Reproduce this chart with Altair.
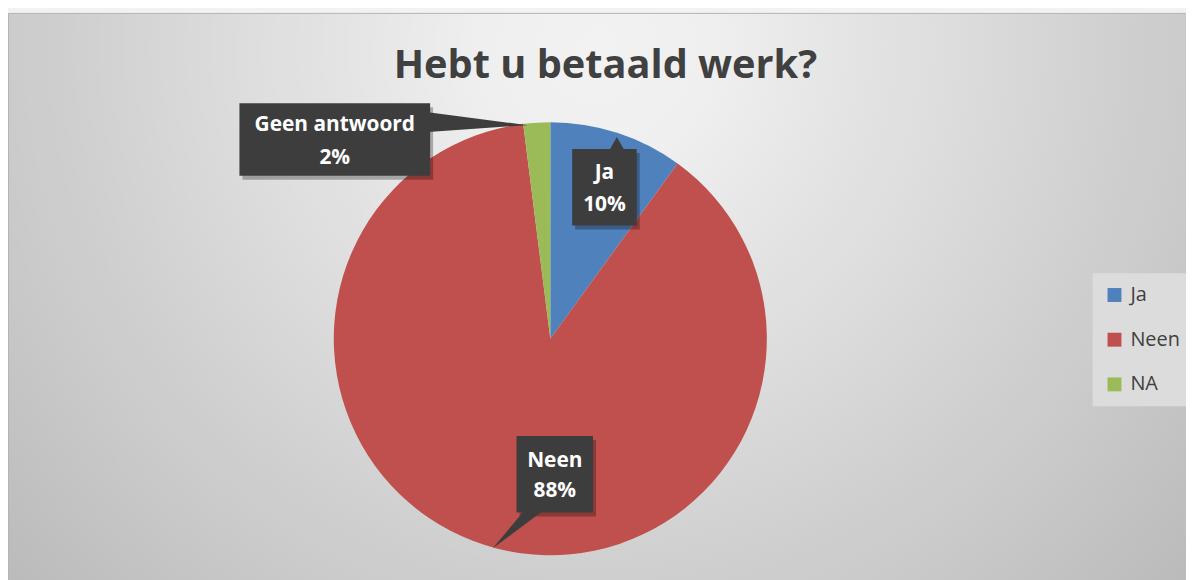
import altair as alt
import pandas as pd

# ---- data ----
categories = ["Ja", "Neen", "NA"]
label_names = ["Ja", "Neen", "Geen antwoord"]
values = [10, 88, 2]
colors = ["#4f81bd", "#c0504d", "#9bbb59"]
title_text = "Hebt u betaald werk?"

# ---- layout (page pixels) ----
W, H = 1186, 572
OFF = 8
CX, CY, R = 554 - OFF, 339 - OFF, 218

box_layout = {
    "Geen antwoord": dict(x1=241, x2=433, y1=102, y2=175, cx=337, ny=130, py=163),
    "Ja": dict(x1=576, x2=641, y1=148, y2=225, cx=608.5, ny=178, py=210),
    "Neen": dict(x1=520, x2=597, y1=437, y2=514, cx=558.5, ny=468, py=498),
}
ptr_v = [dict(id="g", x=431, y=111, y2=131), dict(id="g", x=531, y=124, y2=124)]
ptr_h = [dict(id="j", y=150, x=613, x2=629), dict(id="j", y=136, x=621, x2=621),
         dict(id="n", y=512, x=528, x2=547), dict(id="n", y=550, x=496, x2=496)]

pie_df = pd.DataFrame({"cat": categories, "value": values, "ord": list(range(len(values)))})

rows = []
for name, v in zip(label_names, values):
    L = box_layout[name]
    rows.append(dict(name=name, pct=f"{v}%", x1=L["x1"] - OFF, x2=L["x2"] - OFF,
                     y1=L["y1"] - OFF, y2=L["y2"] - OFF, cx=L["cx"] - OFF,
                     ny=L["ny"] - OFF, py=L["py"] - OFF))
lab_df = pd.DataFrame(rows)
shadow_df = lab_df.assign(x1=lab_df.x1 + 3, x2=lab_df.x2 + 3, y1=lab_df.y1 + 4, y2=lab_df.y2 + 4)
pv_df = pd.DataFrame([{k: (v - OFF if k != "id" else v) for k, v in d.items()} for d in ptr_v])
ph_df = pd.DataFrame([{k: (v - OFF if k != "id" else v) for k, v in d.items()} for d in ptr_h])

xs = alt.Scale(domain=[0, W], range=[0, W])
ys = alt.Scale(domain=[0, H], range=[0, H])
FONT = "Open Sans"
DARK = "#404040"

# background
bg = alt.Chart(pd.DataFrame({"a": [0]})).mark_rect(
    fill={"gradient": "radial", "x1": 0.495, "y1": 0.022, "r1": 0,
          "x2": 0.495, "y2": 0.022, "r2": 0.53,
          "stops": [{"offset": 0, "color": "#ffffff"},
                    {"offset": 0.15, "color": "#fcfcfc"},
                    {"offset": 1, "color": "#c6c6c6"}]},
    stroke="#bdbdbd", strokeWidth=1,
).encode(x=alt.value(0.5), x2=alt.value(1200), y=alt.value(3.5), y2=alt.value(1503.5))

# pie shadow
pshadow = alt.Chart(pd.DataFrame({"r": [R + 8, R + 6, R + 4, R + 2]})).mark_arc(
    fill="black", opacity=0.05
).encode(x=alt.value(CX), y=alt.value(CY + 4), theta=alt.value(0), theta2=alt.value(6.2832),
         radius=alt.Radius("r:Q", scale=None))

pie = alt.Chart(pie_df).mark_arc(outerRadius=R).encode(
    x=alt.value(CX), y=alt.value(CY),
    theta=alt.Theta("value:Q", stack=True),
    order=alt.Order("ord:Q"),
    color=alt.Color("cat:N", scale=alt.Scale(domain=categories, range=colors),
                    legend=alt.Legend(orient="none", legendX=1092, legendY=265, title=None,
                                      symbolType="square", symbolSize=196, symbolStrokeWidth=0,
                                      symbolOpacity=1, labelFont=FONT, labelFontSize=20,
                                      labelColor=DARK, rowPadding=25, padding=12,
                                      fillColor="#dcdcdc", labelOffset=6)),
)

bshadow = alt.Chart(shadow_df).mark_rect(fill="black", opacity=0.28).encode(
    x=alt.X("x1:Q", scale=xs, axis=None), x2="x2:Q",
    y=alt.Y("y1:Q", scale=ys, axis=None), y2="y2:Q")

boxes = alt.Chart(lab_df).mark_rect(fill="#3d3d3d").encode(
    x=alt.X("x1:Q", scale=xs, axis=None), x2="x2:Q",
    y=alt.Y("y1:Q", scale=ys, axis=None), y2="y2:Q")

pv = alt.Chart(pv_df).mark_area(fill="#3d3d3d", opacity=1).encode(
    x=alt.X("x:Q", scale=xs, axis=None),
    y=alt.Y("y:Q", scale=ys, axis=None, stack=None), y2="y2:Q",
    detail="id:N")

ph = alt.Chart(ph_df).mark_area(fill="#3d3d3d", opacity=1, orient="horizontal").encode(
    y=alt.Y("y:Q", scale=ys, axis=None),
    x=alt.X("x:Q", scale=xs, axis=None, stack=None), x2="x2:Q",
    detail="id:N")

name_txt = alt.Chart(lab_df).mark_text(font=FONT, fontSize=21, fontWeight="bold",
                                       color="white", baseline="alphabetic").encode(
    x=alt.X("cx:Q", scale=xs, axis=None), y=alt.Y("ny:Q", scale=ys, axis=None), text="name:N")
pct_txt = alt.Chart(lab_df).mark_text(font=FONT, fontSize=21, fontWeight="bold",
                                      color="white", baseline="alphabetic").encode(
    x=alt.X("cx:Q", scale=xs, axis=None), y=alt.Y("py:Q", scale=ys, axis=None), text="pct:N")

title = alt.Chart(pd.DataFrame({"t": [title_text], "x": [609.5 - OFF], "y": [77 - OFF]})).mark_text(
    font=FONT, fontSize=40, fontWeight="bold", color=DARK, baseline="alphabetic").encode(
    x=alt.X("x:Q", scale=xs, axis=None), y=alt.Y("y:Q", scale=ys, axis=None), text="t:N")

chart = alt.layer(bg, pshadow, pie, bshadow, boxes, pv, ph, name_txt, pct_txt, title).properties(
    width=W, height=H, padding=0, autosize=alt.AutoSizeParams(type="none"),
    background="white",
).configure_view(strokeWidth=0)

chart.save("out.html", embed_options={"renderer": "svg", "actions": False})
